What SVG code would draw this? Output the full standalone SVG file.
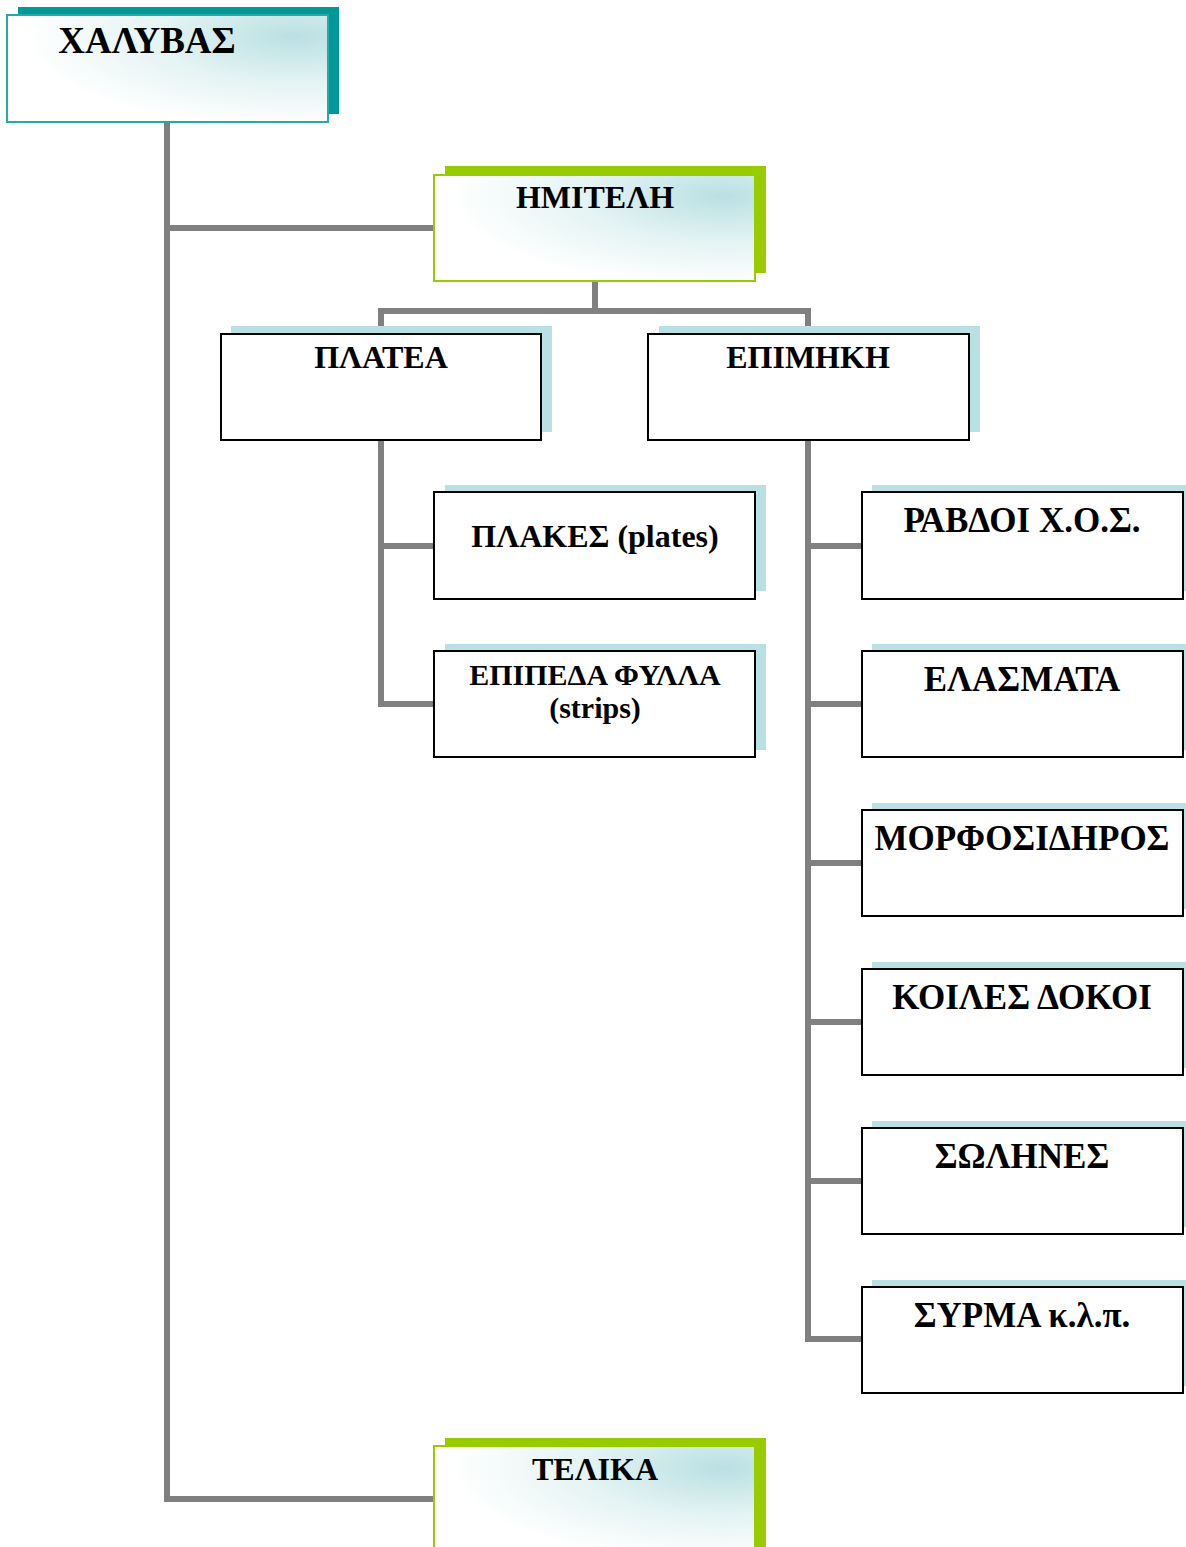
<svg xmlns="http://www.w3.org/2000/svg" width="1186" height="1547" viewBox="0 0 1186 1547">
<style>
.t{font-family:"Liberation Serif","Times New Roman",serif;font-weight:bold;font-size:32px;fill:#000;text-anchor:middle}
.s{font-size:30px}
.r{font-size:35px}
.conn{fill:none;stroke:#808080;stroke-width:6}
.sh{fill:#b9e0e3}
.bx{fill:#fff;stroke:#000;stroke-width:2}
.teal{fill:#009999}
.green{fill:#99cc00}
</style>
<defs>
<radialGradient id="g" cx="0.9" cy="0.2" r="0.85">
<stop offset="0" stop-color="#b9e0e3"/>
<stop offset="0.5" stop-color="#e4f3f3"/>
<stop offset="1" stop-color="#ffffff"/>
</radialGradient>
</defs>
<g id="connectors">
<polyline class="conn" points="167,122 167,1499 434,1499"/>
<line class="conn" x1="167" y1="228" x2="434" y2="228"/>
<polyline class="conn" points="595,281 595,311"/>
<polyline class="conn" points="381,334 381,311 808,311 808,334"/>
<polyline class="conn" points="381,440 381,704 434,704"/>
<line class="conn" x1="381" y1="546" x2="434" y2="546"/>
<polyline class="conn" points="808,440 808,1339 862,1339"/>
<line class="conn" x1="808" y1="546" x2="862" y2="546"/>
<line class="conn" x1="808" y1="704" x2="862" y2="704"/>
<line class="conn" x1="808" y1="863" x2="862" y2="863"/>
<line class="conn" x1="808" y1="1022" x2="862" y2="1022"/>
<line class="conn" x1="808" y1="1181" x2="862" y2="1181"/>
</g>
<g id="n-xalyvas">
<rect class="teal" x="18" y="7" width="321" height="107"/>
<rect x="7" y="15" width="321" height="107" fill="url(#g)" stroke="#2aa8a8" stroke-width="2"/>
<text class="t" x="147" y="53" style="font-size:37px">ΧΑΛΥΒΑΣ</text>
</g>
<g id="n-imiteli">
<rect class="green" x="445" y="166" width="321" height="107"/>
<rect x="434" y="175" width="321" height="106" fill="url(#g)" stroke="#99cc00" stroke-width="2"/>
<text class="t" x="595" y="208">ΗΜΙΤΕΛΗ</text>
</g>
<g id="n-platea">
<rect class="sh" x="231" y="326" width="321" height="106"/>
<rect class="bx" x="221" y="334" width="320" height="106"/>
<text class="t" x="381" y="368">ΠΛΑΤΕΑ</text>
</g>
<g id="n-epimiki">
<rect class="sh" x="659" y="326" width="321" height="106"/>
<rect class="bx" x="648" y="334" width="321" height="106"/>
<text class="t" x="808" y="368">ΕΠΙΜΗΚΗ</text>
</g>
<g id="n-plakes">
<rect class="sh" x="445" y="485" width="321" height="106"/>
<rect class="bx" x="434" y="492" width="321" height="107"/>
<text class="t" x="595" y="547">ΠΛΑΚΕΣ (plates)</text>
</g>
<g id="n-epipeda">
<rect class="sh" x="445" y="644" width="321" height="106"/>
<rect class="bx" x="434" y="651" width="321" height="106"/>
<text class="t s" x="595" y="685">ΕΠΙΠΕΔΑ ΦΥΛΛΑ</text>
<text class="t s" x="595" y="718">(strips)</text>
</g>
<g id="n-ravdoi">
<rect class="sh" x="872" y="485" width="314" height="106"/>
<rect class="bx" x="862" y="492" width="321" height="107"/>
<text class="t r" x="1022" y="532">ΡΑΒΔΟΙ Χ.Ο.Σ.</text>
</g>
<g id="n-elasmata">
<rect class="sh" x="872" y="644" width="314" height="106"/>
<rect class="bx" x="862" y="651" width="321" height="106"/>
<text class="t r" x="1022" y="691">ΕΛΑΣΜΑΤΑ</text>
</g>
<g id="n-morfosidiros">
<rect class="sh" x="872" y="803" width="314" height="106"/>
<rect class="bx" x="862" y="810" width="321" height="106"/>
<text class="t r" x="1022" y="850">ΜΟΡΦΟΣΙΔΗΡΟΣ</text>
</g>
<g id="n-koiles">
<rect class="sh" x="872" y="962" width="314" height="106"/>
<rect class="bx" x="862" y="969" width="321" height="106"/>
<text class="t r" x="1022" y="1009">ΚΟΙΛΕΣ ΔΟΚΟΙ</text>
</g>
<g id="n-solines">
<rect class="sh" x="872" y="1121" width="314" height="106"/>
<rect class="bx" x="862" y="1128" width="321" height="106"/>
<text class="t r" x="1022" y="1168">ΣΩΛΗΝΕΣ</text>
</g>
<g id="n-syrma">
<rect class="sh" x="872" y="1280" width="314" height="106"/>
<rect class="bx" x="862" y="1287" width="321" height="106"/>
<text class="t r" x="1022" y="1327">ΣΥΡΜΑ κ.λ.π.</text>
</g>
<g id="n-telika">
<rect class="green" x="445" y="1438" width="321" height="109"/>
<rect x="434" y="1446" width="321" height="110" fill="url(#g)" stroke="#99cc00" stroke-width="2"/>
<text class="t" x="595" y="1480">ΤΕΛΙΚΑ</text>
</g>
</svg>
